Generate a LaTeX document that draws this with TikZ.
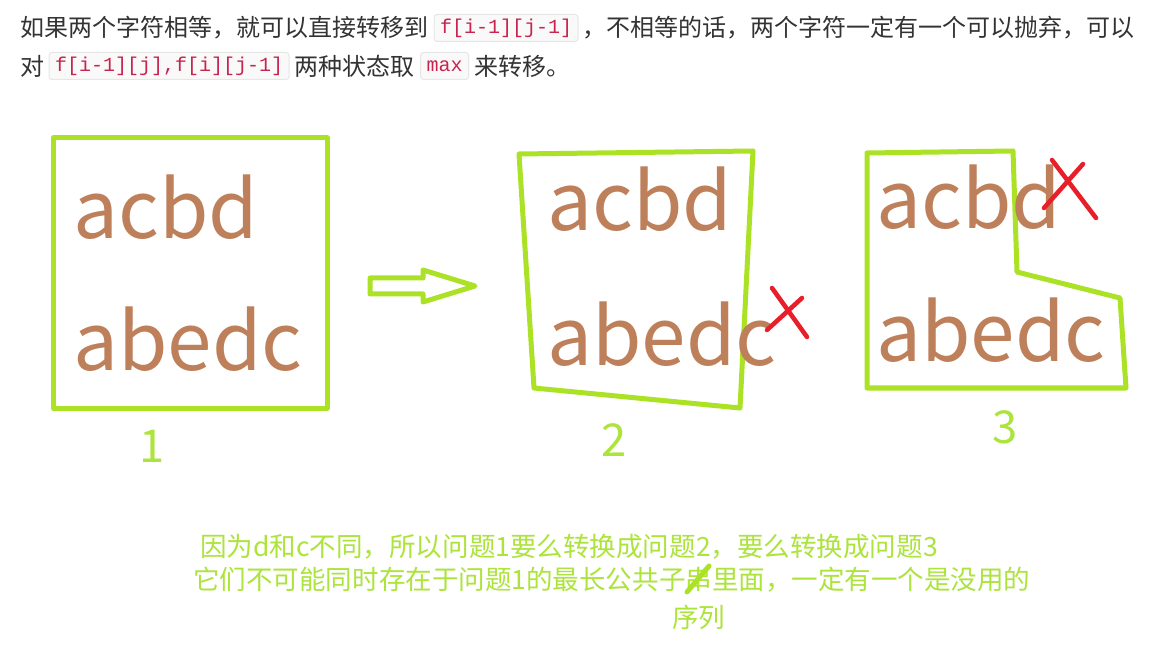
\documentclass[tikz,border=0pt]{standalone}
\usepackage{fontspec}
\setmainfont{Noto Sans CJK SC}
\newfontfamily\cjk{Noto Sans CJK SC}
\newfontfamily\codefont{Liberation Mono}
\usetikzlibrary{positioning}
\definecolor{textgray}{RGB}{51,51,51}
\definecolor{codered}{RGB}{199,37,78}
\definecolor{codebg}{RGB}{249,249,249}
\definecolor{codeborder}{RGB}{230,230,230}
\definecolor{lime}{RGB}{172,226,38}
\definecolor{limetext}{RGB}{172,228,60}
\definecolor{brown}{RGB}{190,128,90}
\definecolor{xred}{RGB}{232,30,40}
\tikzset{
  topt/.style={anchor=west, inner sep=0pt, text=textgray, font=\cjk\fontsize{18}{20}\selectfont},
  codebox/.style={anchor=west, fill=codebg, draw=codeborder, line width=0.75pt, rounded corners=2.25pt,
    inner xsep=4.5pt, inner ysep=0pt, minimum height=20.25pt, text=codered,
    font=\codefont\fontsize{15}{18}\selectfont},
  word/.style={anchor=base west, inner sep=0pt, text=brown, font=\cjk\fontsize{60}{64}\selectfont},
  num/.style={anchor=base, inner sep=0pt, text=limetext, font=\cjk\fontsize{34}{36}\selectfont},
  note/.style={anchor=west, inner sep=0pt, text=limetext, font=\cjk\fontsize{19.9}{22}\selectfont},
  frame/.style={draw=lime, line width=3.75pt, line join=round, line cap=round},
  cross/.style={draw=xred, line width=3.4pt, line cap=round},
}
\begin{document}
\begin{tikzpicture}[x=0.75pt,y=-0.75pt]
\useasboundingbox[fill=white] (0,0) rectangle (1155,655);

% header text
\node[topt] (l1a) at (20,28) {如果两个字符相等，就可以直接转移到};
\node[codebox, right=3.75pt of l1a] (c1) {f[i-1][j-1]};
\node[topt, right=3pt of c1] (l1b) {，不相等的话，两个字符一定有一个可以抛弃，可以};
\node[topt] (l2a) at (20,66) {对};
\node[codebox, right=3pt of l2a] (c2) {f[i-1][j],f[i][j-1]};
\node[topt, right=3.75pt of c2] (l2b) {两种状态取};
\node[codebox, right=3.75pt of l2b] (c3) {max};
\node[topt, right=3.75pt of c3] (l2c) {来转移。};

% problem 1
\draw[frame] (53,138) rectangle (327,408);
\node[word] (p1a) at (73,239) {acbd};
\node[word] (p1b) at (73,371) {abedc};
\node[num] (n1) at (152,462) {1};

% arrow
\draw[frame] (370,278) -- (423,278) -- (423,270) -- (475,286) -- (423,302) -- (423,294) -- (370,294) -- cycle;

% problem 2
\draw[frame] (519,154) -- (753,151) -- (740,408) -- (534,388) -- cycle;
\node[word] (p2a) at (547,231) {acbd};
\node[word] (p2b) at (547,366) {abedc};
\draw[cross] (767,330) -- (802,298);
\draw[cross] (772,288) -- (807,337);
\node[num] (n2) at (614,456) {2};

% problem 3
\draw[frame] (867,153) -- (1013,151) -- (1017,272) -- (1120,298) -- (1126,388) -- (867,388) -- cycle;
\node[word] (p3a) at (876,229) {acbd};
\node[word] (p3b) at (876,362) {abedc};
\draw[cross] (1044,208) -- (1083,164);
\draw[cross] (1052,160) -- (1096,218);
\node[num] (n3) at (1005,443) {3};

% notes
\node[note] (t1) at (200,547) {因为d和c不同，所以问题1要么转换成问题2，要么转换成问题3};
\node[note] (t2) at (193,580) {它们不可能同时存在于问题1的最长公共子串里面，一定有一个是没用的};
\node[note] (t3) at (672,617) {序列};
\draw[draw=lime, line width=3.75pt, line cap=round] (687,592) -- (709,566);
\end{tikzpicture}
\end{document}
